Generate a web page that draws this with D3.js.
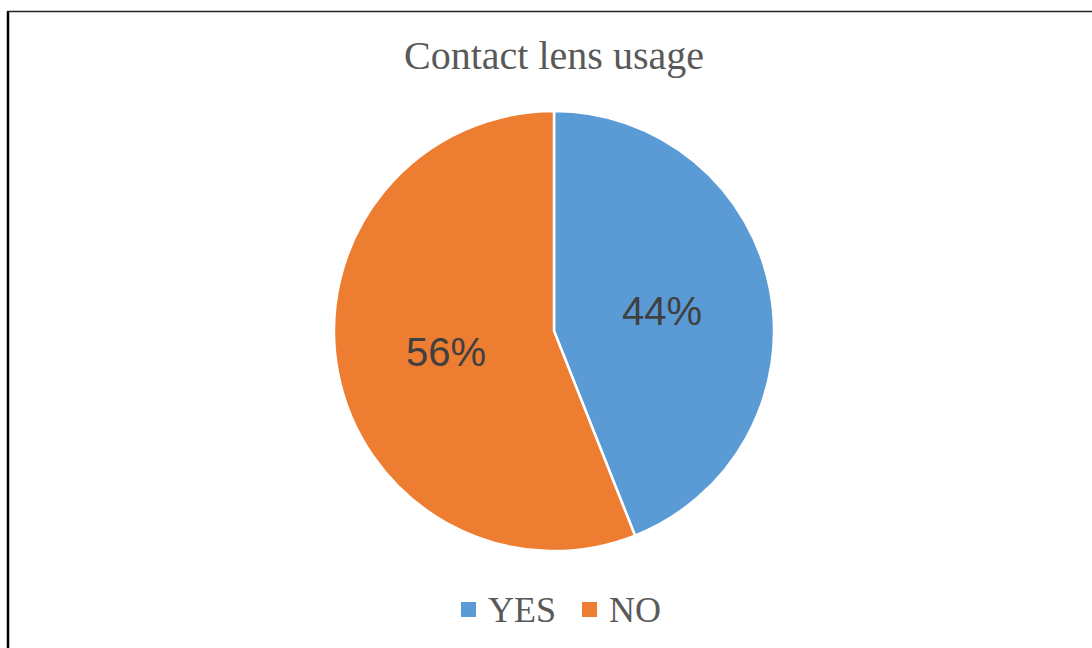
<!DOCTYPE html>
<html lang="en">
<head>
    <meta charset="UTF-8">
    <title>Contact lens usage</title>
    <script src="https://d3js.org/d3.v7.min.js"></script>
    <style>
        body { margin: 0; background: #fff; }
    </style>
</head>
<body>
    <div id="my_dataviz"></div>
    <script>

    // data
    var categories = ["YES", "NO"];
    var values = [44, 56];
    var colors = ["#5B9BD5", "#ED7D31"];
    var title = "Contact lens usage";

    var width = 1092, height = 648;
    var cx = 554, cy = 331, radius = 220;

    var svg = d3.select("#my_dataviz")
        .append("svg")
        .attr("width", width)
        .attr("height", height);

    // frame lines (left + top only visible)
    svg.append("line")
        .attr("x1", 8).attr("y1", 11).attr("x2", 8).attr("y2", height)
        .attr("stroke", "#000").attr("stroke-width", 2.5);
    svg.append("line")
        .attr("x1", 7).attr("y1", 11.5).attr("x2", width).attr("y2", 11.5)
        .attr("stroke", "#222").attr("stroke-width", 1.5);

    // title
    svg.append("text")
        .attr("x", cx)
        .attr("y", 69)
        .attr("text-anchor", "middle")
        .style("font-family", "'Liberation Serif', serif")
        .style("font-size", "40px")
        .style("fill", "#595959")
        .text(title);

    var color = d3.scaleOrdinal().domain(categories).range(colors);

    var pie = d3.pie().sort(null).value(function(d) { return d.value; });
    var data = categories.map(function(c, i) { return {name: c, value: values[i]}; });

    var arc = d3.arc().innerRadius(0).outerRadius(radius);

    var g = svg.append("g")
        .attr("transform", "translate(" + cx + "," + cy + ")");

    var slices = pie(data);

    g.selectAll("path")
        .data(slices)
        .enter()
        .append("path")
            .attr("d", arc)
            .attr("fill", function(d) { return color(d.data.name); })
            .attr("stroke", "#fff")
            .attr("stroke-width", 2.5);

    // percentage labels at centroid
    var total = d3.sum(values);
    g.selectAll("text.lbl")
        .data(slices)
        .enter()
        .append("text")
            .attr("class", "lbl")
            .attr("transform", function(d) { return "translate(" + arc.centroid(d) + ")"; })
            .attr("text-anchor", "middle")
            .attr("dy", "0.36em")
            .style("font-family", "'Liberation Sans', Arial, sans-serif")
            .style("font-size", "40px")
            .style("fill", "#404040")
            .text(function(d) { return Math.round(d.data.value / total * 100) + "%"; });

    // legend
    var legendX = [461, 582];
    var legend = svg.selectAll("g.leg")
        .data(categories)
        .enter()
        .append("g")
            .attr("class", "leg")
            .attr("transform", function(d, i) { return "translate(" + legendX[i] + ",602)"; });

    legend.append("rect")
        .attr("width", 15)
        .attr("height", 15)
        .attr("fill", function(d) { return color(d); });

    legend.append("text")
        .attr("x", 27)
        .attr("y", 20)
        .style("font-family", "'Liberation Serif', serif")
        .style("font-size", "36px")
        .style("fill", "#595959")
        .text(function(d) { return d; });

    </script>
</body>
</html>
